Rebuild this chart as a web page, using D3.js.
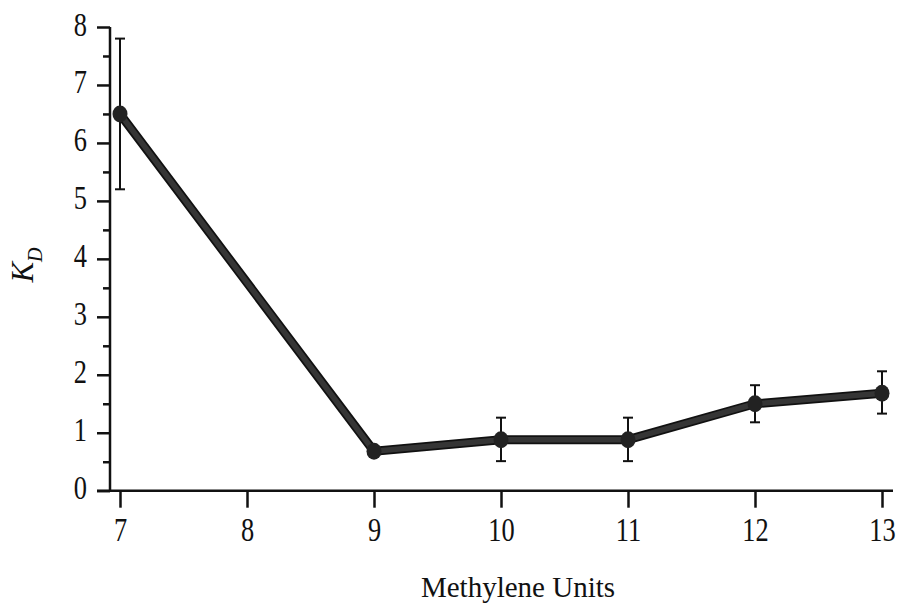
<!DOCTYPE html>
<meta charset="utf-8">
<head>
<style>
  body { margin: 0; background: #fff; }
  text { font-family: "Liberation Serif", "Times New Roman", serif; fill: #111; }
</style>
</head>
<body>
<script src="https://d3js.org/d3.v7.min.js"></script>
<script>
// data
var units = [7, 9, 10, 11, 12, 13];
var kd    = [6.5, 0.68, 0.88, 0.88, 1.5, 1.68];
var kdLow = [5.2, 0.68, 0.51, 0.51, 1.18, 1.33];
var kdHigh= [7.8, 0.68, 1.26, 1.26, 1.82, 2.06];
var xTicks = [7, 8, 9, 10, 11, 12, 13];
var yTicks = [0, 1, 2, 3, 4, 5, 6, 7, 8];
var yMinor = [0.5, 1.5, 2.5, 3.5, 4.5, 5.5, 6.5, 7.5];

var W = 898, H = 608;
var svg = d3.select("body").append("svg")
    .attr("width", W).attr("height", H);

var x = d3.scaleLinear().domain([7, 13]).range([120, 882]);
var y = d3.scaleLinear().domain([0, 8]).range([490.7, 27]);

var data = units.map(function(u, i) {
  return {u: u, v: kd[i], lo: kdLow[i], hi: kdHigh[i]};
});

// y axis
var yAxis = svg.append("g")
  .attr("transform", "translate(110,0)")
  .call(d3.axisLeft(y).tickValues(yTicks).tickSize(13).tickFormat(d3.format("d")));
yAxis.select(".domain").attr("d", "M0," + y(8) + "V" + (y(0) + 1));
svg.append("g")
  .attr("transform", "translate(110,0)")
  .call(d3.axisLeft(y).tickValues(yMinor).tickSize(7).tickFormat(""))
  .select(".domain").remove();

// x axis
var xAxis = svg.append("g")
  .attr("transform", "translate(0," + y(0) + ")")
  .call(d3.axisBottom(x).tickValues(xTicks).tickSize(17).tickFormat(d3.format("d")));
xAxis.select(".domain").attr("d", "M97,0H893");

svg.selectAll(".domain, .tick line")
  .attr("stroke", "#111").attr("stroke-width", 2.5);

// narrow serif tick labels
svg.selectAll(".tick text")
  .style("font-family", "'Liberation Serif', serif")
  .style("font-size", "33px")
  .style("fill", "#111")
  .attr("transform", "scale(0.8,1)");
yAxis.selectAll(".tick text").attr("x", -23 / 0.8).attr("dy", 8);
xAxis.selectAll(".tick text").attr("y", 50).attr("dy", 0);

// error bars
var eb = svg.append("g").selectAll("g")
  .data(data.filter(function(d) { return d.hi > d.lo; }))
  .join("g")
  .attr("stroke", "#111").attr("stroke-width", 2);
eb.append("line")
  .attr("x1", d => x(d.u)).attr("x2", d => x(d.u))
  .attr("y1", d => y(d.lo)).attr("y2", d => y(d.hi));
eb.append("line")
  .attr("x1", d => x(d.u) - 5).attr("x2", d => x(d.u) + 5)
  .attr("y1", d => y(d.hi)).attr("y2", d => y(d.hi));
eb.append("line")
  .attr("x1", d => x(d.u) - 5).attr("x2", d => x(d.u) + 5)
  .attr("y1", d => y(d.lo)).attr("y2", d => y(d.lo));

// line
var line = d3.line().x(d => x(d.u)).y(d => y(d.v));
svg.append("path").datum(data)
  .attr("d", line).attr("fill", "none")
  .attr("stroke", "#111").attr("stroke-width", 9)
  .attr("stroke-linejoin", "round");
svg.append("path").datum(data)
  .attr("d", line).attr("fill", "none")
  .attr("stroke", "#353535").attr("stroke-width", 5.5)
  .attr("stroke-linejoin", "round");

// markers
svg.append("g").selectAll("ellipse")
  .data(data).join("ellipse")
  .attr("cx", d => x(d.u)).attr("cy", d => y(d.v))
  .attr("rx", 7.5).attr("ry", 8.5)
  .attr("fill", "#222");

// axis titles
var yl = svg.append("text")
  .attr("transform", "translate(33,265) rotate(-90)")
  .attr("text-anchor", "middle")
  .attr("font-size", 31);
yl.append("tspan").attr("font-style", "italic").text("K");
yl.append("tspan").attr("font-style", "italic").attr("font-size", 20).attr("dy", 9).text("D");

svg.append("text")
  .attr("x", 518).attr("y", 597)
  .attr("text-anchor", "middle")
  .attr("font-size", 29)
  .text("Methylene Units");
</script>
</body>
